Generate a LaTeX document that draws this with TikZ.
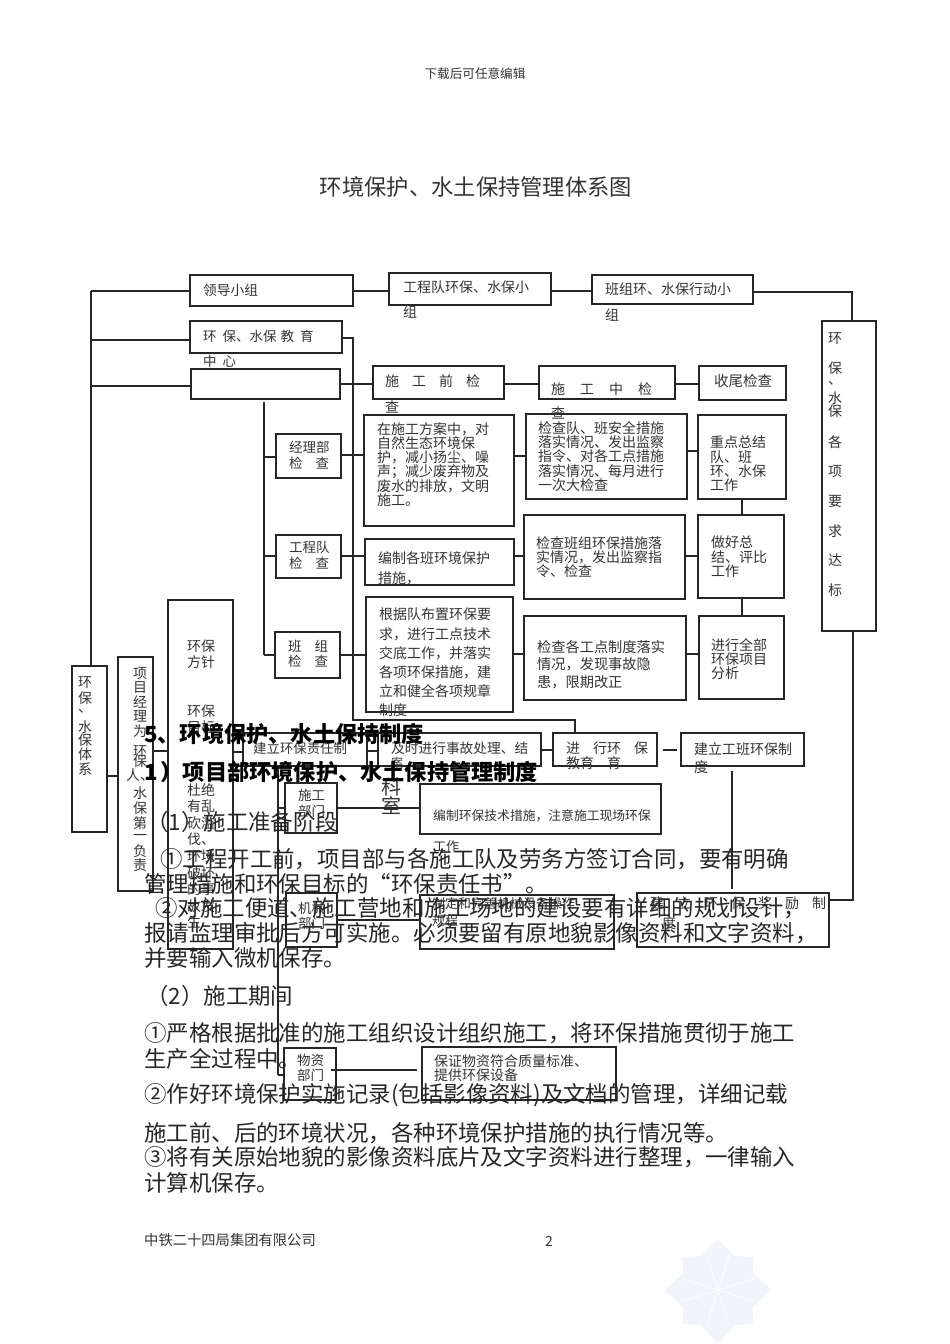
\documentclass[tikz,border=0pt]{standalone}
\usepackage{fontspec}
\setmainfont{Noto Sans CJK SC}
\usetikzlibrary{positioning}
\definecolor{inkgray}{HTML}{333333}
\definecolor{linegray}{HTML}{262626}
\definecolor{markblue}{HTML}{F1F5FB}
\newcommand{\sz}[2]{\fontsize{#1}{#2}\selectfont}
\newcommand{\gp}[1]{\hspace*{#1pt}}
\newcommand{\frameat}[5]{\node[framebox, minimum width={(#4-#2)*1pt}, minimum height={(#5-#3)*1pt}] (#1) at ({(#2+#4)/2},{(#3+#5)/2}) {};}
\tikzset{
  framebox/.style={draw=linegray, line width=1.2pt, inner sep=0pt, outer sep=0pt},
  link/.style={draw=linegray, line width=1.2pt},
  lab/.style={anchor=north west, inner sep=0pt, align=left, text=inkgray, font=\sz{14}{14.3}},
  oneline/.style={anchor=west, inner sep=0pt, text=inkgray, font=\sz{13.7}{14}},
  stack/.style={anchor=north, inner sep=0pt, align=center, text=inkgray, font=\sz{14}{14}},
  bodyline/.style={anchor=west, inner sep=0pt, text=black!85, font=\sz{22.45}{24}},
  headline/.style={anchor=west, inner sep=0pt, text=black, font=\bfseries\sz{22.2}{24}},
}
\begin{document}
\begin{tikzpicture}[x=1pt,y=-1pt]
\useasboundingbox (0,0) rectangle (950,1344);

\fill[markblue] (718,1239) -- (735,1256) -- (753,1257) -- (753,1273) -- (772,1290) -- (753,1307)
  -- (753,1324) -- (735,1325) -- (718,1343) -- (701,1325) -- (683,1324) -- (683,1307)
  -- (665,1290) -- (683,1273) -- (683,1257) -- (701,1256) -- cycle;
\draw[white, line width=0.7pt] (718,1290) .. controls (712,1272) .. (707,1256)
  (718,1290) .. controls (724,1272) .. (729,1256)
  (718,1290) .. controls (700,1284) .. (683,1279)
  (718,1290) .. controls (736,1284) .. (753,1279)
  (718,1290) .. controls (700,1296) .. (683,1301)
  (718,1290) .. controls (736,1296) .. (753,1301)
  (718,1290) .. controls (712,1308) .. (707,1325)
  (718,1290) .. controls (724,1308) .. (729,1325);

\frameat{lingdao}{190}{275}{353}{306}
\frameat{gcdui}{389}{273}{551}{305}
\frameat{banzu}{592}{275}{753}{304}
\frameat{dabiao}{822}{321}{876}{631}
\frameat{jiaoyu}{190}{321}{342}{353}
\frameat{jiancha}{191}{369}{340}{399}
\frameat{qian}{373}{366}{504}{399}
\frameat{zhong}{539}{366}{675}{399}
\frameat{shouwei}{699}{366}{786}{400}
\frameat{jlbu}{276}{434}{341}{478}
\frameat{fangan}{364}{415}{514}{526}
\frameat{duiban}{526}{414}{687}{499}
\frameat{zhongdian}{698}{415}{786}{499}
\frameat{gcjc}{276}{535}{341}{578}
\frameat{bianzhi}{365}{539}{514}{585}
\frameat{jcban}{524}{515}{685}{599}
\frameat{zongjie}{698}{515}{784}{598}
\frameat{bzjc}{275}{632}{340}{678}
\frameat{genju}{366}{597}{513}{712}
\frameat{gedian}{524}{616}{686}{700}
\frameat{fenxi}{699}{616}{784}{699}
\frameat{tixi}{72}{666}{107}{832}
\frameat{jingli}{118}{657}{153}{891}
\frameat{fangzhen}{168}{600}{233}{949}
\frameat{zeren}{243}{733}{367}{766}
\frameat{jishi}{378}{733}{541}{766}
\frameat{jinxing}{553}{733}{657}{766}
\frameat{gongban}{681}{733}{804}{766}
\frameat{sgbu}{285}{783}{337}{833}
\frameat{jishu}{420}{784}{661}{834}
\frameat{jxbu}{286}{893}{337}{947}
\frameat{guicheng}{420}{895}{614}{949}
\frameat{jiangli}{637}{893}{829}{947}
\frameat{wzbu}{284}{1048}{336}{1100}
\frameat{baozheng}{422}{1047}{616}{1100}

\coordinate (trunka) at (91,291);
\coordinate (trunkb) at (264,402);
\coordinate (trunkc) at (278,766);
\coordinate (trunkd) at (278,1075);
\coordinate (turnjy) at (353,338);
\coordinate (turnjx) at (353,720);
\coordinate (turnjz) at (575,720);
\coordinate (turndb) at (852,292);
\coordinate (turnjl) at (853,900);

\foreach \a/\b/\yy in {lingdao/gcdui/291, gcdui/banzu/291, jiancha/qian/384, qian/zhong/384,
  zhong/shouwei/384, jlbu/fangan/455, fangan/duiban/456, duiban/zhongdian/451,
  gcjc/bianzhi/556, bianzhi/jcban/556, jcban/zongjie/556, bzjc/genju/655, genju/gedian/654,
  gedian/fenxi/654, tixi/jingli/776, jingli/fangzhen/751, fangzhen/zeren/752, zeren/jishi/751,
  jishi/jinxing/750, sgbu/jishu/808, jxbu/guicheng/920}
  \draw[link] (\a.east |- 0,\yy) -- (\b.west |- 0,\yy);
\draw[link, shorten <=6pt, shorten >=4pt] (jinxing.east |- 0,750) -- (gongban.west |- 0,750);
\draw[link, shorten <=-5pt, shorten >=5pt] (wzbu.east |- 0,1070) -- (baozheng.west |- 0,1070);

\draw[link] (zeren.north west) -- (zeren.north west -| fangzhen.east);
\draw[link] (zeren.south west) -- (zeren.south west -| fangzhen.east);
\draw[link] (zeren.north east) -- (jishi.north west);
\draw[link] (zeren.south east) -- (jishi.south west);

\draw[link] (trunka) -- (trunka |- tixi.north);
\foreach \t/\yy in {lingdao/291, jiaoyu/340, jiancha/386}
  \draw[link] (trunka |- 0,\yy) -- (\t.west |- 0,\yy);

\draw[link] (trunkb) -- (trunkb |- 0,655);
\foreach \t/\yy in {jlbu/457, gcjc/556, bzjc/655}
  \draw[link] (trunkb |- 0,\yy) -- (\t.west |- 0,\yy);

\draw[link] (trunkc) -- (trunkd);
\draw[link] (trunkd) -- (wzbu.west |- trunkd);
\draw[link] (trunkc |- 0,808) -- (sgbu.west |- 0,808);

\draw[link, shorten <=1pt] (jiaoyu.east |- turnjy) -- (turnjy) -- (turnjx) -- (turnjz) -- (jinxing.north -| turnjz);
\draw[link] (banzu.east |- turndb) -- (turndb) -- (dabiao.north -| turndb);
\draw[link] (dabiao.south -| turnjl) -- (turnjl) -- (jiangli.east |- turnjl);
\draw[link] (zhongdian.south -| 742,0) -- (zongjie.north -| 742,0);
\draw[link] (zongjie.south -| 742,0) -- (fenxi.north -| 742,0);
\draw[link, shorten <=5pt, shorten >=4pt] (gongban.south -| 732,0) -- (jiangli.north -| 732,0);

\node[anchor=center, inner sep=0pt, text=inkgray, font=\sz{12.6}{14}] (topnote) at (475,74) {下载后可任意编辑};
\node[anchor=center, inner sep=0pt, text=inkgray, font=\sz{22.3}{24}] (title) at (476,187) {环境保护、水土保持管理体系图};

\node[oneline] (tlingdao) at (203,290) {领导小组};
\node[lab] (tgcdui) at (403,281) {工程队环保、水保小\\[10pt]组};
\node[lab] (tbanzu) at (605,283) {班组环、水保行动小\\[11pt]组};
\node[lab, font=\sz{13.5}{14}] (tjiaoyu) at (203,330) {环\gp{6}保、水保\gp{4}教\gp{6}育\\[11pt]中\gp{6}心};
\node[lab] (tqian) at (385,374) {施\gp{13}工\gp{13}前\gp{13}检\\[12pt]查};
\node[lab] (tzhong) at (551,382) {施\gp{15}工\gp{15}中\gp{15}检\\[10pt]查};
\node[oneline, font=\sz{14.5}{15}] (tshouwei) at (714,381) {收尾检查};
\node[lab, font=\sz{13.5}{16}] (tjlbu) at (289,441) {经理部\\检\gp{13}查};
\node[lab] (tfangan) at (377,422) {在施工方案中，对\\自然生态环境保\\护，减小扬尘、噪\\声；减少废弃物及\\废水的排放，文明\\施工。};
\node[lab] (tduiban) at (538,421) {检查队、班安全措施\\落实情况、发出监察\\指令、对各工点措施\\落实情况、每月进行\\一次大检查};
\node[lab] (tzhongdian) at (710,436) {重点总结\\队、班\\环、水保\\工作};
\node[lab, font=\sz{13.5}{16}] (tgcjc) at (289,541) {工程队\\检\gp{13}查};
\node[lab, font=\sz{14}{20}] (tbianzhi) at (378,551) {编制各班环境保护\\措施，};
\node[lab] (tjcban) at (536,536) {检查班组环保措施落\\实情况，发出监察指\\令、检查};
\node[lab] (tzongjie) at (711,536) {做好总\\结、评比\\工作};
\node[lab, font=\sz{13.5}{15}] (tbzjc) at (288,640) {班\gp{13}组\\检\gp{13}查};
\node[lab, font=\sz{14}{19.2}] (tgenju) at (379,608) {根据队布置环保要\\求，进行工点技术\\交底工作，并落实\\各项环保措施，建\\立和健全各项规章\\制度};
\node[lab, font=\sz{14.2}{17.7}] (tgedian) at (537,640) {检查各工点制度落实\\情况，发现事故隐\\患，限期改正};
\node[lab] (tfenxi) at (711,638) {进行全部\\环保项目\\分析};

\node[stack] (tdabiao) at (835,332) {环\\[16pt]保\\[-3pt]、\\[5pt]水\\[-1pt]保\\[17pt]各\\[15pt]项\\[16pt]要\\[16pt]求\\[15pt]达\\[16pt]标};
\node[stack] (ttixi) at (85,676) {环\\[2pt]保\\[-5pt]、\\[6pt]水\\[-1pt]保\\体\\[1pt]系};
\node[stack] (tjingli) at (140,667) {项\\目\\[1pt]经\\理\\[1pt]为\\[6pt]环\\[-4pt]保\\人、\\[4pt]水\\[1pt]保\\[1pt]第\\[-2pt]一\\[2pt]负\\责};
\node[lab, font=\sz{14}{16}] (tfangzhen) at (187,640) {环保\\方针};
\node[lab, font=\sz{14}{16}] (tmubiao) at (187,705) {环保\\目标};
\node[lab, font=\sz{14}{16.6}] (tjuezhi) at (187,783) {杜绝\\有乱\\砍滥\\伐、\\环境\\破坏\\的事\\故发\\生};

\node[oneline, font=\sz{13.4}{14}] (tzeren) at (253,748) {建立环保责任制};
\node[oneline] (tjishi) at (391,748) {及时进行事故处理、结};
\node[anchor=center, inner sep=0pt, text=inkgray, font=\sz{12}{14}] (tan) at (397,763) {案};
\node[stack, font=\sz{20}{18}] (tkeshi) at (391,777) {科\\室};
\node[lab, font=\sz{14}{15}] (tjinxing) at (566,742) {进\gp{13}行环\gp{13}保\\教育\gp{13}育};
\node[lab, font=\sz{14}{18}] (tgongban) at (694,742) {建立工班环保制\\度};
\node[lab, font=\sz{13.5}{16}] (tsgbu) at (298,789) {施工\\部门};
\node[oneline, font=\sz{12.8}{14}] (tjishu) at (433,816) {编制环保技术措施，注意施工现场环保};
\node[oneline, font=\sz{13}{14}] (tgongzuo) at (433,847) {工作};
\node[lab, font=\sz{13.5}{15}] (tjxbu) at (298,902) {机械\\部门};
\node[lab, font=\sz{13}{17}] (tguicheng) at (432,897) {制定和完善机械设备操作\\规程};
\node[lab, font=\sz{14}{20}] (tjiangli) at (650,896) {建\gp{13}立\gp{13}环\gp{13}保\gp{13}奖\gp{13}励\gp{13}制\\\gp{12}度};
\node[lab, font=\sz{13.5}{15}] (twzbu) at (297,1054) {物资\\部门};
\node[lab] (tbaozheng) at (434,1054) {保证物资符合质量标准、\\提供环保设备};

\node[headline] (h5) at (144,734) {5、环境保护、水土保持制度};
\node[headline] (h1) at (144,772) {1\gp{3}）项目部环境保护、水土保持管理制度};
\node[bodyline] (b1) at (146,822) {（1）施工准备阶段};
\node[bodyline] (b2) at (160,859) {①工程开工前，项目部与各施工队及劳务方签订合同，要有明确};
\node[bodyline] (b3) at (144,884) {管理措施和环保目标的“环保责任书”。};
\node[bodyline] (b4) at (155,908) {②对施工便道、施工营地和施工场地的建设要有详细的规划设计，};
\node[bodyline] (b5) at (144,933) {报请监理审批后方可实施。必须要留有原地貌影像资料和文字资料，};
\node[bodyline] (b6) at (144,958) {并要输入微机保存。};
\node[bodyline] (b7) at (146,996) {（2）施工期间};
\node[bodyline] (b8) at (144,1033) {①严格根据批准的施工组织设计组织施工，将环保措施贯彻于施工};
\node[bodyline] (b9) at (144,1059) {生产全过程中。};
\node[bodyline] (b10) at (144,1095) {②作好环境保护实施记录(包括影像资料)及文档的管理，详细记载};
\node[bodyline] (b11) at (144,1133) {施工前、后的环境状况，各种环境保护措施的执行情况等。};
\node[bodyline] (b12) at (144,1157) {③将有关原始地貌的影像资料底片及文字资料进行整理，一律输入};
\node[bodyline] (b13) at (144,1183) {计算机保存。};

\node[oneline, font=\sz{14.3}{15}] (footl) at (144,1240) {中铁二十四局集团有限公司};
\node[oneline, font=\sz{14}{15}] (footn) at (545,1241) {2};
\end{tikzpicture}
\end{document}
